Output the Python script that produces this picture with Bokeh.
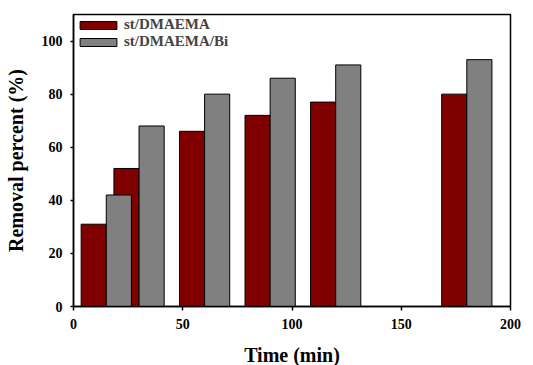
from bokeh.plotting import figure
from bokeh.models import ColumnDataSource, Range1d, FixedTicker
from bokeh.embed import file_html
from bokeh.resources import INLINE

times = [15, 30, 60, 90, 120, 180]
st_dmaema = [31, 52, 66, 72, 77, 80]
st_dmaema_bi = [42, 68, 80, 86, 91, 93]
x_ticks = [0, 50, 100, 150, 200]
y_ticks = [0, 20, 40, 60, 80, 100]

bar_w = 11.5
src = ColumnDataSource(dict(
    x_red=[t - bar_w / 2 for t in times],
    x_grey=[t + bar_w / 2 for t in times],
    red=st_dmaema,
    grey=st_dmaema_bi,
))

FONT = "Liberation Serif"

p = figure(frame_width=437, frame_height=292, output_backend="svg", toolbar_location=None,
           x_range=Range1d(0, 200), y_range=Range1d(0, 110),
           min_border_left=73, min_border_right=12, min_border_top=14, min_border_bottom=56)

p.vbar(x="x_red", top="red", width=bar_w, bottom=0, source=src,
       fill_color="#800000", line_color="black", line_width=1, legend_label="st/DMAEMA")
p.vbar(x="x_grey", top="grey", width=bar_w, bottom=0, source=src,
       fill_color="#808080", line_color="black", line_width=1, legend_label="st/DMAEMA/Bi")

p.grid.visible = False
p.outline_line_color = "black"
p.outline_line_width = 1.5

for ax in (p.xaxis[0], p.yaxis[0]):
    ax.axis_line_color = "black"
    ax.axis_line_width = 1.5
    ax.major_tick_line_color = "black"
    ax.major_tick_line_width = 1.5
    ax.major_tick_in = 0
    ax.minor_tick_line_color = None
    ax.major_label_text_font = FONT
    ax.major_label_text_font_style = "bold"
    ax.major_label_text_font_size = "14px"
    ax.major_label_text_color = "black"
    ax.axis_label_text_font = FONT
    ax.axis_label_text_font_style = "bold"
    ax.axis_label_text_font_size = "20px"
    ax.axis_label_text_color = "black"

p.xaxis.ticker = FixedTicker(ticks=x_ticks)
p.yaxis.ticker = FixedTicker(ticks=y_ticks)
p.xaxis.axis_label = "Time (min)"
p.yaxis.axis_label = "Removal percent (%)"
p.xaxis.major_tick_out = 4
p.yaxis.major_tick_out = 3
p.xaxis.major_label_standoff = 8
p.yaxis.major_label_standoff = 8
p.xaxis.axis_label_standoff = 12
p.yaxis.axis_label_standoff = 12

lg = p.legend[0]
lg.location = "top_left"
lg.margin = 2
lg.padding = 6
lg.border_line_color = None
lg.background_fill_alpha = 0
lg.label_text_font = FONT
lg.label_text_font_style = "bold"
lg.label_text_font_size = "15px"
lg.glyph_width = 46
lg.glyph_height = 10
lg.label_height = 17
lg.label_standoff = 3
lg.spacing = 0

p.title.visible = False

open("out.html", "w").write(file_html(p, INLINE))
